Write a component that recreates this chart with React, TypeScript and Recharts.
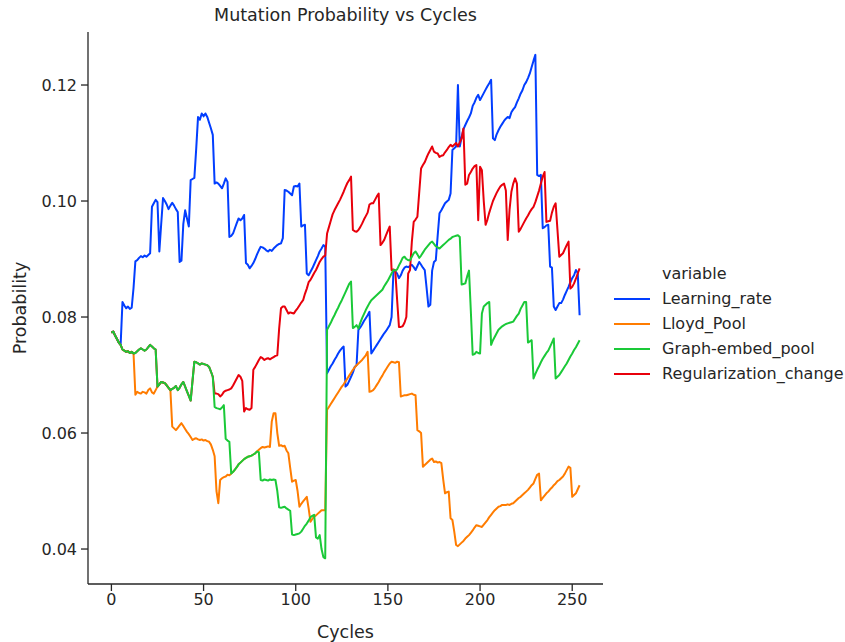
import { LineChart, Line, XAxis, YAxis } from "recharts";

// one sample per cycle, 0 … 254
const CYCLES = Array.from({ length: 255 }, (_, i) => i);

// mutation probabilities, stored in units of 1e-4
const LEARNING_RATE = [
  773, 775, 768, 762, 756, 752, 826, 820, 815, 818,
  814, 816, 850, 896, 898, 902, 905, 903, 906, 904,
  907, 910, 990, 996, 1002, 998, 913, 960, 1005, 1000,
  994, 986, 992, 997, 992, 986, 981, 895, 897, 960,
  984, 970, 956, 1036, 1038, 1040, 1090, 1145, 1140, 1151,
  1146, 1151, 1145, 1135, 1125, 1114, 1030, 1032, 1030, 1026,
  1022, 1030, 1039, 1033, 938, 940, 944, 953, 962, 970,
  967, 970, 976, 893, 890, 884, 888, 893, 900, 908,
  915, 921, 920, 918, 915, 913, 916, 914, 918, 921,
  924, 926, 927, 936, 1019, 1018, 1016, 1013, 1010, 1025,
  1026, 1025, 1030, 956, 958, 959, 875, 872, 878, 884,
  891, 898, 905, 913, 918, 924, 921, 703, 709, 715,
  720, 726, 731, 737, 742, 746, 749, 680, 683, 690,
  697, 704, 714, 717, 778, 782, 787, 793, 798, 803,
  809, 737, 742, 747, 752, 757, 762, 767, 772, 776,
  781, 786, 800, 878, 879, 875, 867, 872, 880, 885,
  887, 886, 888, 890, 886, 881, 888, 895, 890, 885,
  881, 850, 818, 821, 880, 895, 898, 940, 979, 984,
  990, 996, 999, 1002, 1013, 1088, 1091, 1094, 1200, 1094,
  1110, 1124, 1131, 1138, 1144, 1151, 1164, 1170, 1178, 1183,
  1174, 1180, 1186, 1192, 1198, 1203, 1209, 1108, 1105, 1115,
  1122, 1128, 1133, 1138, 1142, 1145, 1143, 1153, 1158, 1162,
  1170, 1177, 1185, 1191, 1200, 1205, 1212, 1220, 1231, 1242,
  1252, 1045, 1043, 1045, 953, 955, 958, 959, 887, 885,
  818, 812, 818, 824, 824, 830, 838, 845, 852, 860,
  867, 872, 881, 876, 803,
];

const LLOYD_POOL = [
  773, 775, 768, 762, 756, 752, 744, 742, 740, 741,
  738, 740, 737, 666, 671, 669, 668, 671, 670, 668,
  674, 677, 670, 668, 674, 680, 684, 688, 687, 686,
  682, 678, 674, 611, 608, 605, 609, 613, 617, 612,
  607, 602, 598, 593, 588, 590, 591, 589, 588, 589,
  587, 588, 586, 585, 580, 571, 560, 500, 479, 519,
  522, 524, 525, 528, 527, 530, 533, 537, 541, 546,
  549, 552, 555, 557, 559, 560, 561, 563, 565, 568,
  571, 574, 576, 575, 576, 577, 576, 620, 634, 634,
  600, 578, 579, 577, 578, 570, 565, 540, 516, 518,
  519, 500, 473, 478, 482, 486, 490, 470, 447, 452,
  456, 458, 461, 464, 467, 467, 467, 640, 645, 650,
  655, 660, 665, 670, 675, 680, 684, 689, 694, 699,
  704, 709, 713, 717, 720, 723, 726, 730, 734, 740,
  671, 672, 674, 678, 683, 688, 694, 699, 705, 710,
  715, 720, 723, 722, 721, 723, 722, 663, 664, 665,
  665, 666, 667, 668, 666, 665, 605, 603, 600, 542,
  545, 548, 551, 554, 556, 550, 551, 549, 550, 548,
  520, 496, 498, 499, 453, 450, 430, 407, 405, 408,
  411, 414, 418, 421, 424, 428, 432, 437, 441, 440,
  439, 438, 442, 446, 450, 455, 459, 463, 467, 470,
  473, 474, 476, 476, 476, 477, 476, 478, 479, 482,
  485, 488, 490, 493, 496, 499, 502, 506, 510, 513,
  521, 528, 530, 484, 488, 492, 496, 499, 503, 506,
  510, 513, 517, 519, 522, 525, 530, 536, 542, 540,
  490, 493, 496, 503, 510,
];

const GRAPH_EMBED_POOL = [
  773, 775, 768, 762, 756, 752, 744, 742, 740, 741,
  738, 740, 737, 738, 741, 744, 746, 744, 742, 744,
  748, 752, 749, 746, 744, 680, 684, 688, 687, 686,
  682, 678, 674, 676, 678, 681, 674, 678, 684, 688,
  680, 672, 664, 656, 690, 723, 722, 720, 718, 720,
  719, 718, 717, 714, 706, 697, 645, 643, 642, 641,
  644, 648, 590, 587, 585, 530, 533, 537, 541, 546,
  549, 552, 555, 557, 559, 560, 561, 563, 565, 568,
  567, 519, 518, 520, 519, 518, 520, 519, 520, 519,
  500, 472, 471, 472, 473, 470, 468, 466, 425, 424,
  425, 426, 427, 430, 435, 440, 444, 449, 455, 457,
  459, 420, 418, 424, 400, 386, 384, 778, 784, 790,
  797, 803, 810, 816, 823, 829, 836, 843, 850, 857,
  861, 781, 783, 786, 780, 790, 798, 805, 812, 818,
  824, 829, 832, 835, 838, 841, 844, 847, 853, 858,
  863, 869, 875, 881, 880, 882, 889, 895, 902, 904,
  900, 898, 898, 904, 910, 913, 908, 902, 906, 911,
  916, 920, 924, 928, 930, 926, 922, 920, 918, 921,
  924, 927, 930, 933, 935, 938, 939, 940, 941, 938,
  856, 857, 858, 870, 880, 810, 735, 736, 740, 738,
  737, 806, 818, 821, 824, 826, 752, 760, 766, 772,
  778, 781, 784, 786, 788, 789, 790, 791, 792, 797,
  802, 806, 814, 820, 826, 826, 756, 758, 760, 694,
  702, 709, 715, 722, 728, 733, 738, 742, 749, 756,
  763, 694, 697, 700, 705, 710, 715, 720, 726, 732,
  737, 743, 748, 754, 760,
];

const REGULARIZATION_CHANGE = [
  773, 775, 768, 762, 756, 752, 744, 742, 740, 741,
  738, 740, 737, 738, 741, 744, 746, 744, 742, 744,
  748, 752, 749, 746, 744, 680, 684, 688, 687, 686,
  682, 678, 674, 676, 678, 681, 674, 678, 684, 688,
  680, 672, 664, 656, 690, 723, 722, 720, 718, 720,
  719, 718, 717, 714, 706, 697, 668, 668, 667, 663,
  666, 671, 673, 674, 675, 677, 682, 688, 694, 700,
  697, 690, 637, 643, 641, 640, 643, 709, 714, 720,
  726, 731, 729, 726, 728, 729, 727, 729, 731, 733,
  734, 780, 815, 818, 818, 812, 806, 808, 807, 806,
  811, 815, 820, 825, 829, 840, 849, 860, 864, 870,
  876, 881, 888, 895, 900, 904, 906, 944, 955, 966,
  977, 984, 990, 996, 1002, 1009, 1016, 1024, 1031, 1036,
  1042, 950, 948, 947, 950, 955, 961, 968, 974, 980,
  994, 996, 996, 1002, 1008, 1013, 924, 928, 933, 941,
  949, 956, 881, 882, 880, 830, 783, 783, 784, 790,
  800, 875, 881, 930, 964, 968, 973, 1015, 1056, 1062,
  1067, 1075, 1082, 1088, 1094, 1085, 1083, 1082, 1076, 1078,
  1079, 1084, 1088, 1093, 1097, 1094, 1097, 1100, 1094, 1101,
  1108, 1125, 1028, 1030, 1045, 1050, 1056, 1060, 1062, 967,
  1059, 1053, 1000, 959, 968, 980, 990, 1000, 1007, 1014,
  1020, 1025, 1028, 1030, 1018, 933, 985, 1016, 1030, 1039,
  1030, 947, 952, 958, 964, 970, 975, 981, 986, 990,
  998, 1008, 1018, 1030, 1042, 1050, 964, 965, 966, 980,
  990, 996, 950, 904, 907, 910, 917, 924, 930, 849,
  852, 858, 866, 875, 884,
];

const X_TICKS = [0, 50, 100, 150, 200, 250];
const Y_TICKS = [0.04, 0.06, 0.08, 0.1, 0.12];

// seaborn "bright" palette
const SERIES = [
  { name: "Learning_rate", values: LEARNING_RATE, color: "#023eff" },
  { name: "Lloyd_Pool", values: LLOYD_POOL, color: "#ff7c00" },
  { name: "Graph-embed_pool", values: GRAPH_EMBED_POOL, color: "#1ac938" },
  { name: "Regularization_change", values: REGULARIZATION_CHANGE, color: "#e8000b" },
];

// green goes last so it sits on top where the series start together
const DRAW_ORDER = [0, 1, 3, 2];

const INK = "#262626";
const FONT = "'DejaVu Sans', sans-serif";

const rows = CYCLES.map((cycle, i) => {
  const row: Record<string, number> = { cycle };
  SERIES.forEach((s) => {
    row[s.name] = s.values[i] / 10000;
  });
  return row;
});

export default function App() {
  return (
    <div style={{ position: "relative", width: 845, height: 642, fontFamily: FONT, color: INK, background: "#fff" }}>
      <style>{"body { margin: 0; }"}</style>
      <LineChart width={845} height={642} data={rows} margin={{ top: 32, right: 242, bottom: 0, left: 0 }}>
        <XAxis
          dataKey="cycle"
          type="number"
          domain={[-12.7, 266.7]}
          ticks={X_TICKS}
          allowDataOverflow
          height={58}
          tickSize={7}
          tickMargin={3}
          axisLine={{ stroke: INK, strokeWidth: 1.3 }}
          tickLine={{ stroke: INK, strokeWidth: 1.3 }}
          tick={{ fill: INK, fontSize: 16, fontFamily: FONT }}
        />
        <YAxis
          type="number"
          domain={[0.03397, 0.12914]}
          ticks={Y_TICKS}
          allowDataOverflow
          width={88}
          tickSize={7}
          tickMargin={4}
          tickFormatter={(v: number) => v.toFixed(2)}
          axisLine={{ stroke: INK, strokeWidth: 1.3 }}
          tickLine={{ stroke: INK, strokeWidth: 1.3 }}
          tick={{ fill: INK, fontSize: 16, fontFamily: FONT }}
        />
        {DRAW_ORDER.map((i) => (
          <Line
            key={SERIES[i].name}
            dataKey={SERIES[i].name}
            type="linear"
            stroke={SERIES[i].color}
            strokeWidth={2}
            strokeLinejoin="round"
            dot={false}
            activeDot={false}
            isAnimationActive={false}
          />
        ))}
      </LineChart>

      <div style={{ position: "absolute", left: 88, width: 515, top: 5, textAlign: "center", fontSize: 17.5, lineHeight: "20px" }}>
        Mutation Probability vs Cycles
      </div>
      <div style={{ position: "absolute", left: 88, width: 515, top: 622, textAlign: "center", fontSize: 17.5, lineHeight: "20px" }}>
        Cycles
      </div>
      <div
        style={{
          position: "absolute",
          left: 20,
          top: 308,
          fontSize: 17.5,
          lineHeight: "20px",
          whiteSpace: "nowrap",
          transform: "translate(-50%, -50%) rotate(-90deg)",
        }}
      >
        Probability
      </div>

      <div style={{ position: "absolute", left: 614, top: 264, fontSize: 16, lineHeight: "20px" }}>
        <div style={{ marginLeft: 48, marginBottom: 2 }}>variable</div>
        {SERIES.map((s) => (
          <div key={s.name} style={{ display: "flex", alignItems: "center", height: 25 }}>
            <div style={{ width: 36, height: 2, background: s.color, marginRight: 12 }} />
            <span>{s.name}</span>
          </div>
        ))}
      </div>
    </div>
  );
}
